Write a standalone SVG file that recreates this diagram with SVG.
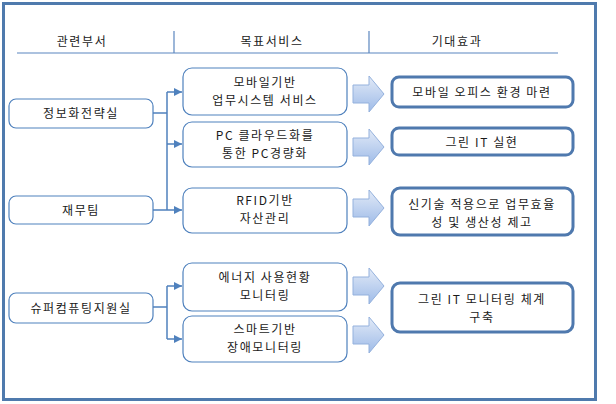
<svg xmlns="http://www.w3.org/2000/svg" width="616" height="404" viewBox="0 0 616 404">
<defs>
<style>
text{font-family:"Noto Sans CJK KR","Noto Sans",sans-serif;font-size:12px;letter-spacing:1.6px;fill:#1a1a1a;text-anchor:middle}
.frame{fill:#fff;stroke:#4f7aad;stroke-width:3}
.hdr{stroke:#5b86bf;stroke-width:1.2;fill:none}
.box{fill:#fff;stroke:#4f81bd;stroke-width:1.2}
.rbox{fill:#fff;stroke:#4f79ae;stroke-width:3}
.conn{stroke:#4f81bd;stroke-width:1.5;fill:none}
.blk{fill:url(#bg);stroke:#94b1dd;stroke-width:1}
</style>
<linearGradient id="bg" x1="0" y1="0" x2="0" y2="1">
<stop offset="0" stop-color="#e2eaf7"/>
<stop offset="1" stop-color="#9ebbe8"/>
</linearGradient>
<marker id="ah" viewBox="0 0 10 10" refX="10" refY="5" markerWidth="8" markerHeight="8" markerUnits="userSpaceOnUse" orient="auto">
<path d="M0,0 L10,5 L0,10 Z" fill="#4f81bd"/>
</marker>
<path id="ba" d="M0,-9 H16 V-18 L31,0 L16,18 V9 H0 Z"/>
</defs>
<rect class="frame" x="3.5" y="3.5" width="592" height="396"/>
<g id="header">
<line class="hdr" x1="17" y1="53" x2="558" y2="53"/>
<line class="hdr" x1="174" y1="31" x2="174" y2="53"/>
<line class="hdr" x1="369" y1="31" x2="369" y2="53"/>
<text x="82" y="46">관련부서</text>
<text x="272" y="46">목표서비스</text>
<text x="457" y="46">기대효과</text>
</g>
<g id="connectors">
<polyline class="conn" points="153,113 167,113"/>
<polyline class="conn" points="153,210 167,210"/>
<polyline class="conn" points="167,92 167,210"/>
<polyline class="conn" points="167,92 182,92" marker-end="url(#ah)"/>
<polyline class="conn" points="167,144 182,144" marker-end="url(#ah)"/>
<polyline class="conn" points="167,210 182,210" marker-end="url(#ah)"/>
<polyline class="conn" points="153,307 167,307"/>
<polyline class="conn" points="167,286 167,339"/>
<polyline class="conn" points="167,286 182,286" marker-end="url(#ah)"/>
<polyline class="conn" points="167,339 182,339" marker-end="url(#ah)"/>
<use href="#ba" class="blk" x="353" y="94"/>
<use href="#ba" class="blk" x="353" y="147"/>
<use href="#ba" class="blk" x="353" y="208"/>
<use href="#ba" class="blk" x="353" y="286"/>
<use href="#ba" class="blk" x="353" y="335"/>
</g>
<g id="n-strategy"><rect class="box" x="9" y="99" width="144" height="29" rx="7"/><text x="81" y="118">정보화전략실</text></g>
<g id="n-finance"><rect class="box" x="9" y="196" width="144" height="28" rx="7"/><text x="81" y="215">재무팀</text></g>
<g id="n-super"><rect class="box" x="9" y="293" width="144" height="30" rx="7"/><text x="81" y="313">슈퍼컴퓨팅지원실</text></g>
<g id="s-mobile"><rect class="box" x="183" y="68" width="164" height="47" rx="9"/><text x="265" y="87">모바일기반</text><text x="265" y="105">업무시스템 서비스</text></g>
<g id="s-pc"><rect class="box" x="183" y="122" width="164" height="45" rx="9"/><text x="265" y="140">PC 클라우드화를</text><text x="265" y="158">통한 PC경량화</text></g>
<g id="s-rfid"><rect class="box" x="183" y="188" width="164" height="45" rx="9"/><text x="265" y="205">RFID기반</text><text x="265" y="223">자산관리</text></g>
<g id="s-energy"><rect class="box" x="183" y="263" width="164" height="48" rx="9"/><text x="265" y="282">에너지 사용현황</text><text x="265" y="300">모니터링</text></g>
<g id="s-smart"><rect class="box" x="183" y="316" width="164" height="46" rx="9"/><text x="265" y="334">스마트기반</text><text x="265" y="352">장애모니터링</text></g>
<g id="e-mobile"><rect class="rbox" x="392" y="77" width="181" height="30" rx="7"/><text x="482" y="97">모바일 오피스 환경 마련</text></g>
<g id="e-green"><rect class="rbox" x="392" y="128" width="181" height="27" rx="7"/><text x="482" y="147">그린 IT 실현</text></g>
<g id="e-tech"><rect class="rbox" x="392" y="188" width="181" height="47" rx="8"/><text x="482" y="209">신기술 적용으로 업무효율</text><text x="482" y="227">성 및 생산성 제고</text></g>
<g id="e-monitor"><rect class="rbox" x="392" y="283" width="181" height="49" rx="8"/><text x="482" y="304">그린 IT 모니터링 체계</text><text x="482" y="322">구축</text></g>
</svg>
